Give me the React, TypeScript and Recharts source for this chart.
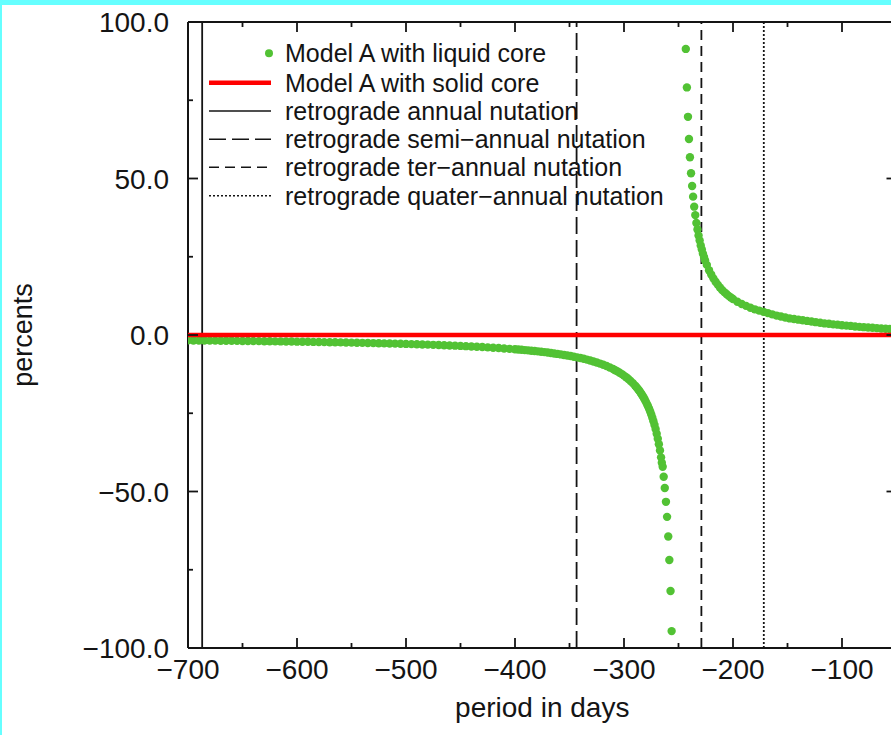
import React from 'react';
import { ScatterChart, Scatter, XAxis, YAxis, ReferenceLine } from 'recharts';

// ---------- data ----------
const lowerBranchPeriods = [
  -700, -695, -690, -685, -680, -675, -670, -665, -660, -655,
  -650, -645, -640, -635, -630, -625, -620, -615, -610, -605,
  -600, -595, -590, -585, -580, -575, -570, -565, -560, -555,
  -550, -545, -540, -535, -530, -525, -520, -515, -510, -505,
  -500, -495, -490, -485, -480, -475, -470, -465, -460, -455,
  -450, -445, -440, -435, -430, -425, -420, -415, -410, -405,
  -400,
  -397, -394, -391, -388, -385, -382, -379, -376, -373, -370,
  -367, -364, -361, -358, -355, -352, -349, -346, -343, -340,
  -337, -334, -331, -328, -325, -322, -319, -316, -313, -310,
  -308, -306, -304, -302, -300, -298, -296, -294, -292, -290,
  -289, -288, -287, -286, -285, -284, -283, -282, -281, -280,
  -279, -278, -277, -276, -275, -274, -273, -272, -271, -270,
  -269, -268, -267, -266,
  -265.3, -264.5, -263.6, -262.6, -261.5, -260.5, -259.4, -258.4, -257.3, -256.3,
];
const lowerBranchPercents = [
  -1.72, -1.74, -1.75, -1.77, -1.79, -1.8, -1.82, -1.84, -1.86, -1.88,
  -1.9, -1.92, -1.94, -1.96, -1.98, -2.0, -2.03, -2.05, -2.08, -2.1,
  -2.13, -2.15, -2.18, -2.21, -2.24, -2.27, -2.3, -2.33, -2.36, -2.4,
  -2.43, -2.47, -2.5, -2.54, -2.58, -2.62, -2.67, -2.71, -2.76, -2.8,
  -2.85, -2.91, -2.96, -3.02, -3.08, -3.14, -3.2, -3.27, -3.34, -3.41,
  -3.49, -3.57, -3.66, -3.75, -3.85, -3.95, -4.05, -4.17, -4.29, -4.42,
  -4.55,
  -4.64, -4.73, -4.82, -4.92, -5.02, -5.13, -5.24, -5.36, -5.48, -5.61,
  -5.75, -5.89, -6.04, -6.2, -6.37, -6.54, -6.73, -6.93, -7.14, -7.37,
  -7.61, -7.87, -8.15, -8.45, -8.78, -9.13, -9.51, -9.92, -10.38, -10.88,
  -11.24, -11.63, -12.04, -12.49, -12.97, -13.5, -14.06, -14.68, -15.36, -16.1,
  -16.5, -16.92, -17.37, -17.83, -18.33, -18.85, -19.4, -19.99, -20.62, -21.28,
  -22.0, -22.76, -23.57, -24.45, -25.4, -26.42, -27.53, -28.74, -30.07, -31.52,
  -33.12, -34.89, -36.87, -39.09,
  -40.8, -42.1, -45.3, -48.9, -53.3, -58.1, -64.4, -71.9, -81.8, -94.6,
];
const upperBranchPeriods = [
  -243.3, -242.3, -241.3, -240.4, -239.5, -238.5, -237.5, -236.6, -235.6, -234.6,
  -233.6, -232.6, -231.6, -230.6, -229.6, -228.6, -227.6, -226.6, -225.6,
  -224, -222, -220, -218, -216, -214, -212, -210, -208, -206, -204, -202, -200,
  -196, -192, -188, -184, -180, -176, -172, -168, -164, -160,
  -156, -152, -148, -144, -140, -136, -132, -128, -124, -120,
  -116, -112, -108, -104, -100, -96, -92, -88, -84, -80,
  -76, -72, -68, -64, -60, -56, -52,
];
const upperBranchPercents = [
  91.4, 79.1, 69.7, 62.6, 56.8, 51.7, 47.6, 44.2, 41.0, 38.3,
  35.8, 33.7, 31.8, 30.2, 28.6, 27.3, 26.0, 24.9, 23.8,
  22.4, 20.7, 19.3, 18.1, 17.0, 16.1, 15.2, 14.4, 13.7, 13.1, 12.5, 12.0, 11.5,
  10.6, 9.9, 9.3, 8.7, 8.2, 7.8, 7.4, 7.0, 6.6, 6.2,
  5.9, 5.6, 5.3, 5.1, 4.9, 4.7, 4.5, 4.3, 4.1, 3.9,
  3.7, 3.6, 3.4, 3.3, 3.1, 3.0, 2.9, 2.7, 2.6, 2.5,
  2.4, 2.3, 2.2, 2.1, 2.0, 1.9, 1.8,
];
const solidCorePeriods = [-700, -50];
const solidCorePercents = [0, 0];

const nutationNames = [
  'retrograde annual nutation',
  'retrograde semi\u2212annual nutation',
  'retrograde ter\u2212annual nutation',
  'retrograde quater\u2212annual nutation',
];
const nutationPeriods = [-687, -343.5, -229, -171.75];
const nutationDashes = ['', '17 6', '10 6', '2 2'];

const seriesNames = ['Model A with liquid core', 'Model A with solid core'];

const xTicks = [-700, -650, -600, -550, -500, -450, -400, -350, -300, -250, -200, -150, -100, -50];
const yTicks = [-100, -75, -50, -25, 0, 25, 50, 75, 100];
const xDomain = [-700, -50];
const yDomain = [-100, 100];

// ---------- styles / layout ----------
const GREEN = '#52c234';
const RED = '#ff0000';
const INK = '#141414';
const FONT = '"Liberation Sans", Arial, Helvetica, sans-serif';

const CHART_W = 910;
const CHART_H = 735;
const MARGIN = { top: 22, right: 13.5, left: 88, bottom: 27 };
const Y_AXIS_W = 100;
const X_AXIS_H = 60;
const PLOT_RIGHT = CHART_W - MARGIN.right;
const PLOT_TOP = MARGIN.top;
const PLOT_BOTTOM = CHART_H - MARGIN.bottom - X_AXIS_H;

const liquidData = [
  ...lowerBranchPeriods.map((x, i) => ({ x, y: lowerBranchPercents[i] })),
  ...upperBranchPeriods.map((x, i) => ({ x, y: upperBranchPercents[i] })),
];
const solidData = solidCorePeriods.map((x, i) => ({ x, y: solidCorePercents[i] }));

const fmtMinus = (s: string) => s.replace('-', '\u2212');

const XTick = (props: any) => {
  const { x, y, payload } = props;
  const v = payload.value;
  const major = v % 100 === 0;
  const len = major ? 10 : 5;
  return (
    <g>
      <line x1={x} y1={y} x2={x} y2={y - len} stroke={INK} strokeWidth={1.8} />
      <line x1={x} y1={PLOT_TOP} x2={x} y2={PLOT_TOP + len} stroke={INK} strokeWidth={1.8} />
      {major && (
        <text x={x} y={y + 31} textAnchor="middle" fontSize={28} fontFamily={FONT} fill={INK}>
          {fmtMinus(String(v))}
        </text>
      )}
    </g>
  );
};

const YTick = (props: any) => {
  const { x, y, payload } = props;
  const v = payload.value;
  const major = v % 50 === 0;
  const len = major ? 10 : 5;
  return (
    <g>
      <line x1={x} y1={y} x2={x + len} y2={y} stroke={INK} strokeWidth={1.8} />
      <line x1={PLOT_RIGHT - len} y1={y} x2={PLOT_RIGHT} y2={y} stroke={INK} strokeWidth={1.8} />
      {major && (
        <text x={x - 19} y={y + 10} textAnchor="end" fontSize={28} fontFamily={FONT} fill={INK}>
          {fmtMinus(v.toFixed(1))}
        </text>
      )}
    </g>
  );
};

const XLabel = (props: any) => {
  const vb = props.viewBox || {};
  const cx = vb.x + vb.width / 2;
  return (
    <text x={cx} y={PLOT_BOTTOM + 69} textAnchor="middle" fontSize={28} fontFamily={FONT} fill={INK}>
      period in days
    </text>
  );
};

const YLabel = (props: any) => {
  const vb = props.viewBox || {};
  const cy = vb.y + vb.height / 2;
  const lx = 23;
  return (
    <text
      x={lx}
      y={cy}
      transform={`rotate(-90, ${lx}, ${cy})`}
      textAnchor="middle"
      dominantBaseline="central"
      fontSize={27}
      fontFamily={FONT}
      fill={INK}
    >
      percents
    </text>
  );
};

const Dot = (props: any) => {
  const { cx, cy } = props;
  if (cx == null || cy == null) return <g />;
  return <circle cx={cx} cy={cy} r={4.2} fill={GREEN} />;
};

const NoShape = () => <g />;

const LegendBox = () => {
  const x0 = 209;
  const x1 = 271;
  const tx = 285;
  const rows = [53.3, 82.7, 111, 139.3, 167.3, 195.7];
  const labels = [...seriesNames, ...nutationNames];
  return (
    <svg width={891} height={735} style={{ position: 'absolute', left: 0, top: 0, zIndex: 0 }}>
      <circle cx={269} cy={rows[0]} r={4} fill={GREEN} />
      <line x1={x0} y1={rows[1]} x2={x1} y2={rows[1]} stroke={RED} strokeWidth={4.5} />
      {nutationNames.map((_, i) => (
        <line
          key={i}
          x1={x0}
          y1={rows[i + 2]}
          x2={x1}
          y2={rows[i + 2]}
          stroke={INK}
          strokeWidth={1.6}
          strokeDasharray={nutationDashes[i] || undefined}
        />
      ))}
      {labels.map((t, i) => (
        <text key={t} x={tx} y={rows[i] + 9} fontSize={25} fontFamily={FONT} fill={INK}>
          {t}
        </text>
      ))}
    </svg>
  );
};

export default function App() {
  return (
    <div
      style={{
        position: 'absolute',
        left: 0,
        top: 0,
        width: 891,
        height: 735,
        overflow: 'hidden',
        background: '#ffffff',
      }}
    >
      <LegendBox />
      <div style={{ position: 'absolute', left: 0, top: 0, zIndex: 1 }}>
        <ScatterChart width={CHART_W} height={CHART_H} margin={MARGIN}>
          <XAxis
            type="number"
            dataKey="x"
            domain={xDomain}
            ticks={xTicks}
            interval={0}
            allowDataOverflow
            height={X_AXIS_H}
            tickSize={0}
            tickMargin={0}
            tickLine={false}
            tick={<XTick />}
            axisLine={{ stroke: INK, strokeWidth: 2 }}
            label={<XLabel />}
          />
          <YAxis
            type="number"
            dataKey="y"
            domain={yDomain}
            ticks={yTicks}
            interval={0}
            allowDataOverflow
            width={Y_AXIS_W}
            tickSize={0}
            tickMargin={0}
            tickLine={false}
            tick={<YTick />}
            axisLine={{ stroke: INK, strokeWidth: 2 }}
            label={<YLabel />}
          />
          <ReferenceLine y={100} stroke={INK} strokeWidth={2} />
          <ReferenceLine x={-50} stroke={INK} strokeWidth={2} />
          <Scatter
            name={seriesNames[0]}
            data={liquidData}
            shape={<Dot />}
            isAnimationActive={false}
          />
          <Scatter
            name={seriesNames[1]}
            data={solidData}
            line={{ stroke: RED, strokeWidth: 4.5 }}
            shape={<NoShape />}
            isAnimationActive={false}
          />
          {nutationPeriods.map((p, i) => (
            <ReferenceLine
              key={p}
              x={p}
              stroke={INK}
              strokeWidth={1.8}
              strokeDasharray={nutationDashes[i] || undefined}
            />
          ))}
        </ScatterChart>
      </div>
      <div style={{ position: 'absolute', left: 0, top: 0, width: 891, height: 5, background: '#66ffff', zIndex: 2 }} />
      <div style={{ position: 'absolute', left: 0, top: 0, width: 2, height: 735, background: '#66ffff', zIndex: 2 }} />
    </div>
  );
}
